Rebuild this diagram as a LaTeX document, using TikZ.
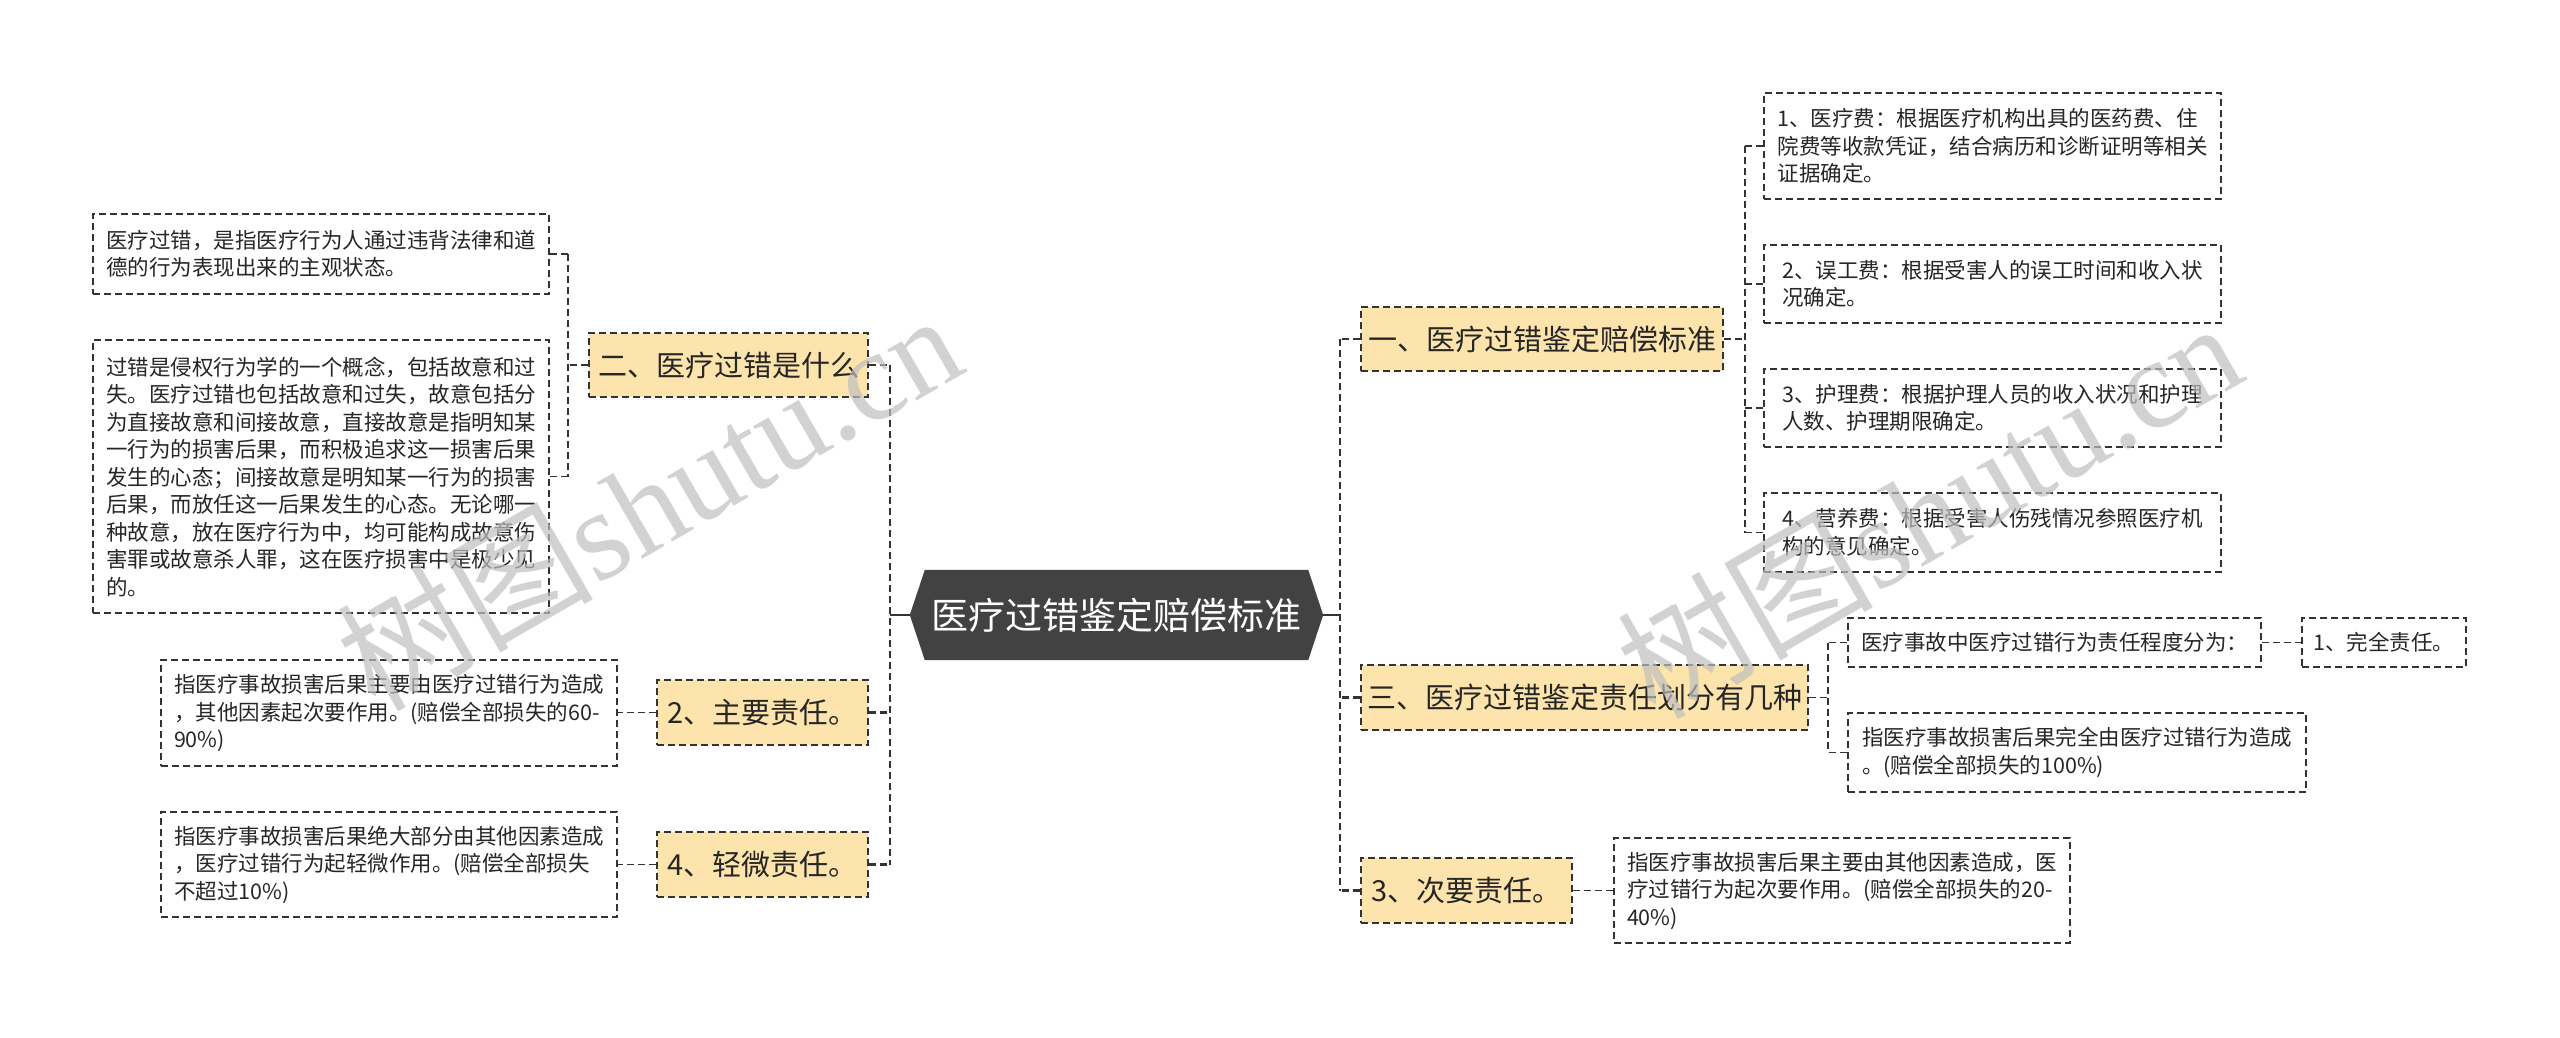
\documentclass[tikz,border=0pt]{standalone}
\usepackage{fontspec}
\setmainfont{Noto Sans CJK SC}
\newfontfamily\wmserif{Liberation Serif}
\usetikzlibrary{backgrounds}
\definecolor{nodefill}{HTML}{FCE4AC}
\definecolor{linecol}{HTML}{333333}
\definecolor{cenfill}{HTML}{424242}
\tikzset{
  textbox/.style={draw=linecol, line width=1.6pt, dash pattern=on 7pt off 4pt, align=left, inner sep=0pt, font=\fontsize{21.5}{27.5}\selectfont, text=black!85},
  topicbox/.style={draw=linecol, fill=nodefill, line width=1.6pt, dash pattern=on 7pt off 4pt, inner sep=0pt, font=\fontsize{29}{34}\selectfont, text=black!85},
  censhape/.style={inner sep=0pt, minimum width=383pt, minimum height=90pt, font=\fontsize{37}{40}\selectfont, text=white},
  bsize/.style 2 args={minimum width=#1pt, minimum height=#2pt},
  lvlone/.style={draw=linecol, line width=2.6pt, dash pattern=on 7pt off 4pt},
  lvltwo/.style={draw=linecol, line width=1.6pt, dash pattern=on 7pt off 4pt},
  stubline/.style={draw=linecol, line width=2.6pt},
  wmark/.style={text=black!25, text opacity=0.7, inner sep=0pt, font=\fontsize{128}{130}\selectfont}
}
\begin{document}
\begin{tikzpicture}[x=1pt, y=-1pt]
\useasboundingbox (0,0) rectangle (2560,1037);

% central topic
\node[censhape] (cen) at (1116.5,615) {医疗过错鉴定赔偿标准};
\begin{pgfonlayer}{background}
\fill[white] (0,0) rectangle (2560,1037);
\fill[cenfill] (cen.north west) -- (cen.north east) -- ([xshift=15pt]cen.east) -- (cen.south east) -- (cen.south west) -- ([xshift=-15pt]cen.west) -- cycle;
\end{pgfonlayer}
\coordinate (jL) at (890,615);
\coordinate (jR) at (1340,615);

% left side topics
\node[topicbox, bsize={279}{64}] (er) at (728.5,365) {二、医疗过错是什么};
\node[topicbox, bsize={211}{65}] (zy) at (762.5,712.5) {2、主要责任。};
\node[topicbox, bsize={211}{65}] (qw) at (762.5,864.5) {4、轻微责任。};

\node[textbox, bsize={456}{80}] (L1) at (321,254) {医疗过错，是指医疗行为人通过违背法律和道\\德的行为表现出来的主观状态。};
\node[textbox, bsize={456}{273}] (L2) at (321,476.5) {过错是侵权行为学的一个概念，包括故意和过\\失。医疗过错也包括故意和过失，故意包括分\\为直接故意和间接故意，直接故意是指明知某\\一行为的损害后果，而积极追求这一损害后果\\发生的心态；间接故意是明知某一行为的损害\\后果，而放任这一后果发生的心态。无论哪一\\种故意，放在医疗行为中，均可能构成故意伤\\害罪或故意杀人罪，这在医疗损害中是极少见\\的。};
\node[textbox, bsize={456}{106}] (L3) at (389,713) {指医疗事故损害后果主要由医疗过错行为造成\\，其他因素起次要作用。(赔偿全部损失的60-\\90\%)};
\node[textbox, bsize={456}{105}] (L4) at (389,864.5) {指医疗事故损害后果绝大部分由其他因素造成\\，医疗过错行为起轻微作用。(赔偿全部损失\\不超过10\%)};

% right side topics
\node[topicbox, bsize={362}{64}] (yi) at (1542,339) {一、医疗过错鉴定赔偿标准};
\node[topicbox, bsize={447}{65}] (san) at (1584.5,697.5) {三、医疗过错鉴定责任划分有几种};
\node[topicbox, bsize={211}{65}] (ci) at (1466.5,890.5) {3、次要责任。};

\node[textbox, bsize={457}{106}] (R1) at (1992.5,146) {1、医疗费：根据医疗机构出具的医药费、住\\院费等收款凭证，结合病历和诊断证明等相关\\证据确定。};
\node[textbox, bsize={457}{78}] (R2) at (1992.5,284) {2、误工费：根据受害人的误工时间和收入状\\况确定。};
\node[textbox, bsize={457}{78}] (R3) at (1992.5,408) {3、护理费：根据护理人员的收入状况和护理\\人数、护理期限确定。};
\node[textbox, bsize={457}{79}] (R4) at (1992.5,532.5) {4、营养费：根据受害人伤残情况参照医疗机\\构的意见确定。};
\node[textbox, bsize={413}{49}] (R5) at (2054.5,642.5) {医疗事故中医疗过错行为责任程度分为：};
\node[textbox, bsize={164}{49}] (R6) at (2384,642.5) {1、完全责任。};
\node[textbox, bsize={458}{79}] (R7) at (2077,752.5) {指医疗事故损害后果完全由医疗过错行为造成\\。(赔偿全部损失的100\%)};
\node[textbox, bsize={456}{105}] (R8) at (1842,890.5) {指医疗事故损害后果主要由其他因素造成，医\\疗过错行为起次要作用。(赔偿全部损失的20-\\40\%)};

% connectors: centre to first level
\draw[stubline] (jL) -- ([xshift=-15pt]cen.west);
\draw[stubline] ([xshift=15pt]cen.east) -- (jR);
\draw[lvlone] (er.east -| jL) -- (qw.east -| jL);
\draw[lvlone] (er.east) -- (er.east -| jL);
\draw[lvlone] (zy.east) -- (zy.east -| jL);
\draw[lvlone] (qw.east) -- (qw.east -| jL);
\draw[lvlone] (yi.west -| jR) -- (ci.west -| jR);
\draw[lvlone] (yi.west) -- (yi.west -| jR);
\draw[lvlone] (san.west) -- (san.west -| jR);
\draw[lvlone] (ci.west) -- (ci.west -| jR);

% second level
\coordinate (b2) at (568,365);
\draw[lvltwo] (er.west) -- (b2);
\draw[lvltwo] (L1.east -| b2) -- (L2.east -| b2);
\draw[lvltwo] (L1.east) -- (L1.east -| b2);
\draw[lvltwo] (L2.east) -- (L2.east -| b2);
\draw[lvltwo] (zy.west) -- (L3.east |- zy.west);
\draw[lvltwo] (qw.west) -- (L4.east |- qw.west);

\coordinate (b1) at (1745,339);
\draw[lvltwo] (yi.east) -- (b1);
\draw[lvltwo] (R1.west -| b1) -- (R4.west -| b1);
\draw[lvltwo] (R1.west) -- (R1.west -| b1);
\draw[lvltwo] (R2.west) -- (R2.west -| b1);
\draw[lvltwo] (R3.west) -- (R3.west -| b1);
\draw[lvltwo] (R4.west) -- (R4.west -| b1);

\coordinate (b3) at (1828,697.5);
\draw[lvltwo] (san.east) -- (b3);
\draw[lvltwo] (R5.west -| b3) -- (R7.west -| b3);
\draw[lvltwo] (R5.west) -- (R5.west -| b3);
\draw[lvltwo] (R7.west) -- (R7.west -| b3);
\draw[lvltwo] (R5.east) -- (R6.west);
\draw[lvltwo] (ci.east) -- (R8.west |- ci.east);

% watermarks
\node[wmark, rotate=30] (wmL) at (648,500) {树图{\wmserif shutu.cn}};
\node[wmark, rotate=30] (wmR) at (1928,508) {树图{\wmserif shutu.cn}};
\end{tikzpicture}
\end{document}
